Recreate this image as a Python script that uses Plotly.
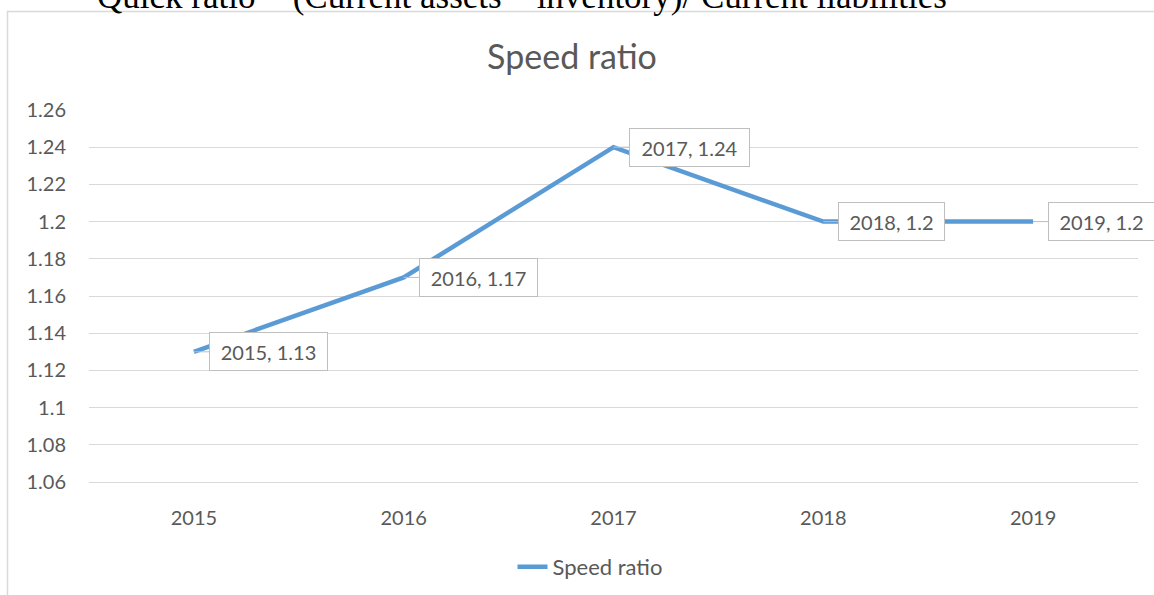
import plotly.graph_objects as go

years = ["2015", "2016", "2017", "2018", "2019"]
values = [1.13, 1.17, 1.24, 1.20, 1.20]
labels = ["2015, 1.13", "2016, 1.17", "2017, 1.24", "2018, 1.2", "2019, 1.2"]
y_ticks = [1.06, 1.08, 1.10, 1.12, 1.14, 1.16, 1.18, 1.20, 1.22, 1.24, 1.26]
y_tick_text = ["1.06", "1.08", "1.1", "1.12", "1.14", "1.16", "1.18", "1.2", "1.22", "1.24", "1.26"]
series_name = "Speed ratio"
chart_title = "Speed ratio"
header_text = "Quick ratio = (Current assets \u2013 inventory)/ Current liabilities"

FONT = "Lato"
GREY = "#595959"
LINE = "#5B9BD5"
GRID = "#D9D9D9"

W, H = 1154, 595
L, R, T, B = 89, 16, 110, 113
pw, ph = W - L - R, H - T - B

def px_x(px):
    return (px - L) / pw

def px_y(py):
    return (H - B - py) / ph

fig = go.Figure()
fig.add_trace(go.Scatter(
    x=years, y=values, mode="lines", name=series_name,
    line=dict(color=LINE, width=4.5),
))

box_w = [113, 113, 115, 101, 101]
for i, (v, lab, bw) in enumerate(zip(values, labels, box_w)):
    fig.add_annotation(
        x=i, y=v, text=lab, showarrow=True,
        ax=15 + (bw + 6) / 2, ay=0,
        arrowhead=0, arrowwidth=1, arrowcolor="#BFBFBF", standoff=0,
        bgcolor="white", bordercolor="#BFBFBF", borderwidth=1, borderpad=2,
        width=bw, height=33,
        font=dict(family=FONT, size=20, color=GREY),
    )

# header text (clipped at top, as in the source)
fig.add_annotation(
    xref="paper", yref="paper", x=px_x(522), y=px_y(-4),
    text=header_text, showarrow=False, xanchor="center", yanchor="middle",
    font=dict(family="Liberation Serif", size=35, color="black"),
)

# chart border
fig.add_shape(
    type="rect", xref="paper", yref="paper",
    x0=px_x(7.5), x1=px_x(1170), y0=px_y(620), y1=px_y(11.5),
    line=dict(color=GRID, width=1.5), fillcolor="rgba(0,0,0,0)", layer="below",
)

fig.update_layout(
    width=W, height=H,
    margin=dict(l=L, r=R, t=T, b=B, autoexpand=False),
    paper_bgcolor="white", plot_bgcolor="white",
    title=dict(text=chart_title, x=572 / W, xanchor="center",
               y=1 - 57 / H, yanchor="middle",
               font=dict(family=FONT, size=34, color=GREY)),
    showlegend=True,
    legend=dict(orientation="h", x=px_x(590), xanchor="center",
                y=px_y(567), yanchor="middle",
                font=dict(family=FONT, size=22, color=GREY)),
    xaxis=dict(type="category", range=[-0.5, 4.5], showgrid=False,
               showline=True, linecolor=GRID, linewidth=1, ticks="",
               tickfont=dict(family=FONT, size=20, color=GREY), ticklabelstandoff=18),
    yaxis=dict(range=[1.06, 1.26], tickvals=y_ticks, ticktext=y_tick_text,
               showgrid=True, gridcolor=GRID, gridwidth=1, zeroline=False,
               showline=False, ticks="", ticklabelstandoff=22,
               tickfont=dict(family=FONT, size=20, color=GREY)),
)

fig.write_html("out.html", config={"displayModeBar": False},
               post_script="document.body.style.margin='0';")
